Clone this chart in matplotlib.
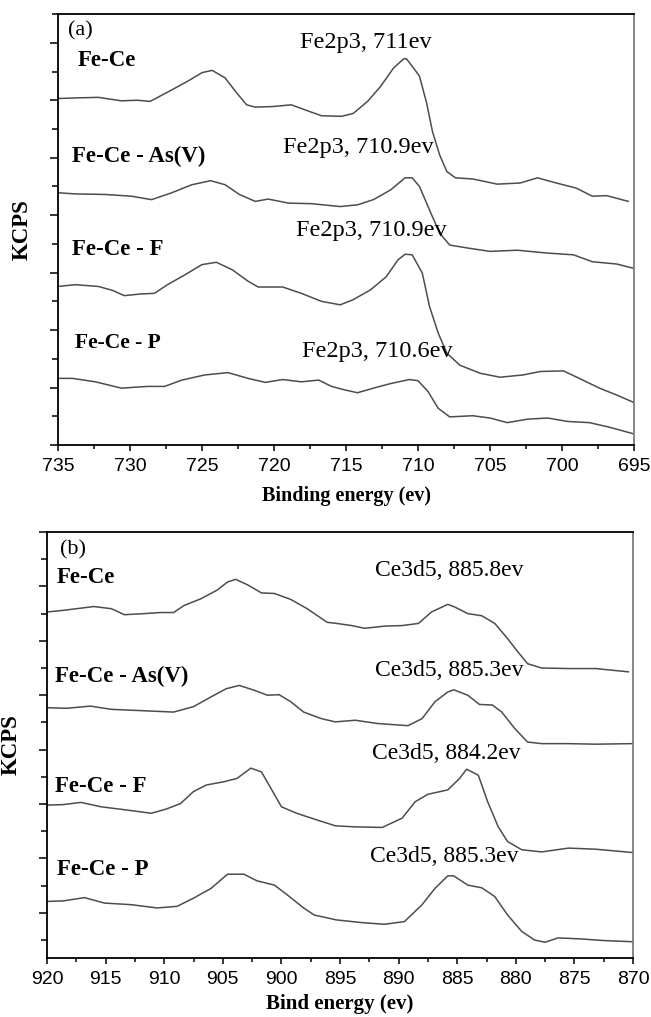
"""XPS Fe2p3 and Ce3d5 spectra for Fe-Ce adsorbents before and after loading."""

import matplotlib

matplotlib.use("Agg")
import matplotlib.pyplot as plt  # noqa: E402
from matplotlib.ticker import MultipleLocator, NullFormatter  # noqa: E402

SERIF = "Liberation Serif"
SANS = "Liberation Sans"
LINE = "#4d4d4d"

plt.rcParams.update({"font.family": SERIF, "figure.dpi": 100})

# ---- (a) Fe2p3 region, stacked traces (binding energy in eV, offset KCPS) ----
fe_fece_be = [735.0, 733.8, 732.2, 730.6, 729.5, 728.6, 727.1, 726.0, 725.0, 724.3,
              723.4, 722.6, 721.9, 721.3, 720.1, 718.8, 717.6, 716.7, 715.3, 714.5,
              713.5, 712.6, 711.7, 711.0, 710.8, 710.4, 709.9, 709.4, 709.0, 708.5,
              708.0, 707.4, 706.2, 704.5, 702.9, 701.7, 700.4, 699.0, 697.9, 696.9, 695.4]
fe_fece_kcps = [6.03, 6.04, 6.05, 5.99, 6.00, 5.98, 6.18, 6.33, 6.48, 6.52,
                6.39, 6.13, 5.92, 5.88, 5.89, 5.92, 5.81, 5.73, 5.72, 5.77,
                5.98, 6.24, 6.56, 6.72, 6.72, 6.59, 6.42, 5.95, 5.46, 5.05,
                4.76, 4.65, 4.63, 4.54, 4.56, 4.65, 4.56, 4.47, 4.33, 4.34, 4.24]

fe_as_be = [735.0, 733.8, 731.7, 729.9, 728.5, 727.1, 725.7, 724.4, 723.4, 722.4,
            721.3, 720.4, 719.0, 717.4, 715.4, 714.2, 713.1, 711.9, 710.9, 710.4,
            709.9, 709.2, 708.5, 707.8, 706.6, 705.0, 703.1, 701.0, 699.2, 697.9,
            696.2, 695.1]
fe_as_kcps = [4.39, 4.37, 4.36, 4.33, 4.27, 4.39, 4.53, 4.60, 4.53, 4.36,
              4.24, 4.28, 4.21, 4.20, 4.15, 4.18, 4.27, 4.44, 4.65, 4.65,
              4.50, 4.09, 3.69, 3.48, 3.43, 3.37, 3.39, 3.34, 3.31, 3.19,
              3.15, 3.08]

fe_f_be = [735.0, 733.8, 732.2, 731.2, 730.4, 729.2, 728.3, 727.4, 726.2, 725.0,
           724.0, 722.9, 721.8, 721.1, 719.4, 718.1, 716.7, 715.4, 714.5, 713.3,
           712.2, 711.4, 710.9, 710.4, 709.7, 709.2, 708.6, 708.0, 707.1, 705.7,
           704.3, 702.7, 701.5, 699.9, 698.8, 697.4, 696.2, 695.1]
fe_f_kcps = [2.76, 2.79, 2.76, 2.69, 2.60, 2.63, 2.64, 2.79, 2.96, 3.14,
             3.18, 3.05, 2.85, 2.75, 2.75, 2.64, 2.50, 2.44, 2.53, 2.70,
             2.93, 3.22, 3.32, 3.31, 2.99, 2.41, 1.95, 1.60, 1.39, 1.25,
             1.18, 1.22, 1.28, 1.29, 1.16, 0.99, 0.87, 0.75]

fe_p_be = [735.0, 734.0, 732.4, 730.6, 728.8, 727.6, 726.4, 724.8, 723.2, 721.8,
           720.6, 719.4, 718.1, 716.9, 716.0, 715.1, 714.2, 713.1, 711.9, 710.6,
           710.0, 709.3, 708.6, 707.8, 706.2, 705.0, 703.8, 702.4, 701.0, 699.6,
           698.1, 696.7, 695.1]
fe_p_kcps = [1.16, 1.16, 1.10, 0.99, 1.02, 1.02, 1.13, 1.22, 1.26, 1.16,
             1.09, 1.14, 1.10, 1.13, 1.02, 0.96, 0.91, 0.99, 1.07, 1.14,
             1.12, 0.93, 0.64, 0.49, 0.51, 0.47, 0.39, 0.45, 0.47, 0.41,
             0.39, 0.31, 0.20]

# ---- (b) Ce3d5 region ----
ce_fece_be = [920.0, 918.6, 916.0, 914.5, 913.4, 911.7, 910.3, 909.2, 908.3, 906.9,
              905.5, 904.6, 903.9, 902.9, 901.7, 900.6, 899.2, 897.8, 896.1, 895.3,
              894.0, 892.9, 891.2, 889.7, 888.3, 887.2, 885.8, 885.2, 884.1, 882.9,
              881.8, 880.7, 879.8, 879.0, 877.8, 875.5, 873.2, 871.8, 870.4]
ce_fece_kcps = [5.53, 5.56, 5.63, 5.59, 5.48, 5.50, 5.52, 5.52, 5.65, 5.77,
                5.93, 6.08, 6.13, 6.03, 5.88, 5.87, 5.76, 5.59, 5.34, 5.32,
                5.28, 5.23, 5.27, 5.28, 5.32, 5.53, 5.67, 5.62, 5.50, 5.46,
                5.32, 5.04, 4.79, 4.58, 4.50, 4.49, 4.49, 4.46, 4.43]

ce_as_be = [920.0, 918.3, 916.3, 914.5, 912.3, 909.2, 907.5, 906.0, 904.7, 903.6,
            902.3, 901.2, 900.2, 899.2, 898.1, 896.6, 895.4, 893.7, 891.8, 889.2,
            888.0, 886.9, 885.8, 885.3, 884.1, 883.1, 882.0, 881.2, 880.1, 879.0,
            877.8, 875.5, 873.2, 870.1]
ce_as_kcps = [3.77, 3.76, 3.80, 3.74, 3.72, 3.69, 3.79, 3.97, 4.12, 4.18,
              4.09, 4.00, 4.01, 3.88, 3.69, 3.57, 3.51, 3.54, 3.48, 3.44,
              3.57, 3.88, 4.06, 4.10, 4.00, 3.83, 3.82, 3.69, 3.39, 3.14,
              3.11, 3.11, 3.10, 3.11]

ce_f_be = [920.0, 918.6, 917.1, 915.4, 913.2, 911.1, 909.8, 908.6, 907.5, 906.4,
           904.9, 903.8, 902.6, 901.7, 900.9, 900.0, 898.7, 897.0, 895.4, 893.7,
           891.4, 889.7, 888.6, 887.5, 885.8, 884.8, 884.2, 883.2, 882.4, 881.5,
           880.7, 879.5, 877.8, 875.5, 873.2, 870.1]
ce_f_kcps = [1.98, 1.99, 2.03, 1.95, 1.89, 1.83, 1.91, 2.01, 2.23, 2.35,
             2.41, 2.47, 2.66, 2.59, 2.29, 1.95, 1.83, 1.71, 1.60, 1.58,
             1.57, 1.74, 2.04, 2.18, 2.26, 2.47, 2.64, 2.53, 2.04, 1.58,
             1.31, 1.16, 1.12, 1.19, 1.17, 1.11]

ce_p_be = [920.0, 918.6, 916.8, 915.1, 912.8, 910.6, 908.9, 907.5, 906.0, 904.6,
           903.2, 902.1, 900.6, 899.5, 898.1, 897.2, 895.3, 893.1, 891.2, 889.5,
           888.0, 886.9, 885.8, 885.3, 884.1, 882.9, 881.8, 880.7, 879.5, 878.4,
           877.5, 876.4, 874.4, 872.4, 870.1]
ce_p_kcps = [0.21, 0.22, 0.28, 0.18, 0.15, 0.09, 0.12, 0.27, 0.45, 0.71,
             0.71, 0.59, 0.51, 0.33, 0.09, -0.04, -0.13, -0.18, -0.21, -0.16,
             0.15, 0.45, 0.68, 0.68, 0.51, 0.46, 0.30, -0.04, -0.34, -0.50,
             -0.54, -0.46, -0.48, -0.51, -0.53]

samples = ["Fe-Ce", "Fe-Ce - As(V)", "Fe-Ce - F", "Fe-Ce - P"]
fe_peaks = ["Fe2p3, 711ev", "Fe2p3, 710.9ev", "Fe2p3, 710.9ev", "Fe2p3, 710.6ev"]
ce_peaks = ["Ce3d5, 885.8ev", "Ce3d5, 885.3ev", "Ce3d5, 884.2ev", "Ce3d5, 885.3ev"]

fe_ticks = [735, 730, 725, 720, 715, 710, 705, 700, 695]
ce_ticks = [920, 915, 910, 905, 900, 895, 890, 885, 880, 875, 870]


def style_axes(ax, xlim, ylim, ticks):
    ax.set_xlim(*xlim)
    ax.set_ylim(*ylim)
    ax.set_xticks(ticks)
    ax.set_xticklabels([str(t) for t in ticks], family=SANS, fontsize=14)
    ax.xaxis.set_minor_locator(MultipleLocator(2.5))
    ax.yaxis.set_major_locator(MultipleLocator(1.0))
    ax.yaxis.set_minor_locator(MultipleLocator(0.5))
    ax.yaxis.set_major_formatter(NullFormatter())
    ax.tick_params(axis="both", which="both", direction="out", width=1.1, color="black")
    ax.tick_params(axis="y", which="major", length=6)
    ax.tick_params(axis="y", which="minor", length=4.3)
    ax.tick_params(axis="x", which="major", length=4.5, pad=5)
    ax.tick_params(axis="x", which="minor", length=3)
    ax.tick_params(top=False, right=False, which="both")
    for side in ("left", "bottom", "top"):
        ax.spines[side].set_linewidth(1.3)
        ax.spines[side].set_color("black")
    ax.spines["right"].set_linewidth(1.1)
    ax.spines["right"].set_color("#666666")
    ax.set_ylabel("KCPS", fontsize=16.5, fontweight="bold", labelpad=9)


fig = plt.figure(figsize=(6.51, 10.17))

# --- panel (a) ---
ax_a = fig.add_axes([0.0891, 0.5624, 0.8848, 0.4238])
for be, kcps in [(fe_fece_be, fe_fece_kcps), (fe_as_be, fe_as_kcps),
                 (fe_f_be, fe_f_kcps), (fe_p_be, fe_p_kcps)]:
    ax_a.plot(be, kcps, color=LINE, lw=1.1)
style_axes(ax_a, (735, 695), (0, 7.5), fe_ticks)
ax_a.set_xlabel("Binding energy (ev)", fontsize=14.5, fontweight="bold", labelpad=8)
ax_a.text(734.3, 7.2, "(a)", fontsize=16, va="center", ha="left")
for label, (x, y), size in zip(samples, [(733.6, 6.69), (734.0, 5.02), (734.0, 3.40), (733.8, 1.78)],
                               [16.5, 16.5, 16.5, 15.5]):
    ax_a.text(x, y, label, fontsize=size, fontweight="bold", va="center", ha="left")
for label, (x, y) in zip(fe_peaks, [(718.2, 7.00), (719.4, 5.17), (718.5, 3.73), (718.05, 1.62)]):
    ax_a.text(x, y, label, fontsize=17.5, va="center", ha="left")

# --- panel (b) ---
ax_b = fig.add_axes([0.0722, 0.0580, 0.9002, 0.4189])
for be, kcps in [(ce_fece_be, ce_fece_kcps), (ce_as_be, ce_as_kcps),
                 (ce_f_be, ce_f_kcps), (ce_p_be, ce_p_kcps)]:
    ax_b.plot(be, kcps, color=LINE, lw=1.1)
style_axes(ax_b, (920, 870), (-0.83, 7.0), ce_ticks)
ax_b.set_xlabel("Bind energy (ev)", fontsize=15, fontweight="bold", labelpad=4)
ax_b.text(918.9, 6.68, "(b)", fontsize=16, va="center", ha="left")
for label, (x, y) in zip(samples, [(919.15, 6.17), (919.3, 4.35), (919.3, 2.33), (919.15, 0.79)]):
    ax_b.text(x, y, label, fontsize=16.5, fontweight="bold", va="center", ha="left")
for label, (x, y) in zip(ce_peaks, [(892.0, 6.29), (892.0, 4.46), (892.3, 2.92), (892.45, 1.03)]):
    ax_b.text(x, y, label, fontsize=17, va="center", ha="left")

fig.savefig("out.png", dpi=100)
